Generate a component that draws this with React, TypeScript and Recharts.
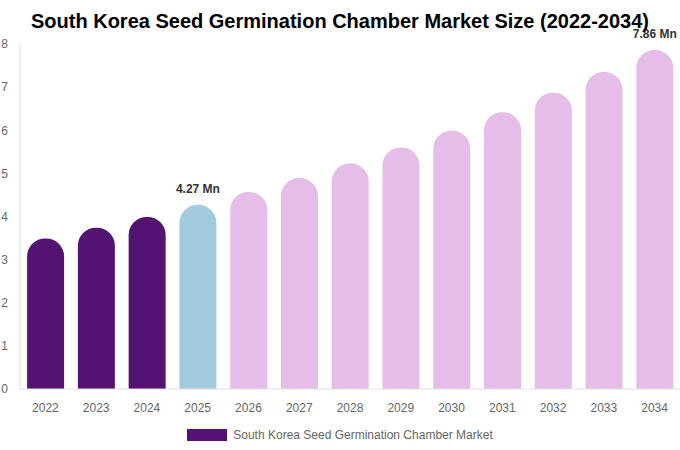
import React from "react";
import { BarChart, Bar, XAxis, YAxis, Cell, LabelList, Legend } from "recharts";

const years = ["2022", "2023", "2024", "2025", "2026", "2027", "2028", "2029", "2030", "2031", "2032", "2033", "2034"];
const values = [3.49, 3.74, 3.99, 4.27, 4.57, 4.89, 5.23, 5.6, 5.99, 6.42, 6.87, 7.35, 7.86];
const labels = ["", "", "", "4.27 Mn", "", "", "", "", "", "", "", "", "7.86 Mn"];
const yTicks = [0, 1, 2, 3, 4, 5, 6, 7, 8];
const seriesName = "South Korea Seed Germination Chamber Market";

const DARK = "#541272";
const BLUE = "#a3cadd";
const PINK = "#e6bce8";

const colorFor = (i: number) => (i < 3 ? DARK : i === 3 ? BLUE : PINK);

const data = years.map((y, i) => ({ year: y, value: values[i], label: labels[i] }));

const font = "'Liberation Sans', Arial, Helvetica, sans-serif";

const LegendContent = () => (
  <div style={{ display: "flex", justifyContent: "center", alignItems: "center", height: 31, fontFamily: font }}>
    <span style={{ display: "inline-block", width: 40, height: 12, background: DARK, marginRight: 6 }} />
    <span style={{ fontSize: 12, color: "#666" }}>{seriesName}</span>
  </div>
);

const TopLabel = (props: any) => {
  const { x, y, width, value } = props;
  if (!value) return null;
  return (
    <text
      x={Number(x) + Number(width) / 2}
      y={Number(y) - 12}
      textAnchor="middle"
      fill="#333"
      fontSize={12}
      fontWeight="bold"
      fontFamily={font}
    >
      {value}
    </text>
  );
};

export default function App() {
  return (
    <div style={{ position: "absolute", left: 0, top: 0, width: 680, height: 450, background: "#fff", fontFamily: font }}>
      <div
        style={{
          position: "absolute",
          top: 10.5,
          left: 0,
          width: 680,
          textAlign: "center",
          fontSize: 20,
          lineHeight: "20px",
          fontWeight: "bold",
          color: "#000",
          fontFamily: font,
          zIndex: 2,
        }}
      >
        South Korea Seed Germination Chamber Market Size (2022-2034)
      </div>
      <BarChart
        width={680}
        height={450}
        data={data}
        margin={{ top: 44, right: 0, left: 0, bottom: 0 }}
        barCategoryGap="14%"
      >
        <XAxis
          dataKey="year"
          tickLine={false}
          tickMargin={8}
          axisLine={{ stroke: "#e0e0e0" }}
          tick={{ fill: "#666", fontSize: 12, fontFamily: font }}
          interval={0}
        />
        <YAxis
          width={20}
          domain={[0, 8]}
          ticks={yTicks}
          tickLine={false}
          tickMargin={6}
          axisLine={{ stroke: "#e0e0e0" }}
          tick={{ fill: "#666", fontSize: 12, fontFamily: font }}
        />
        <Legend verticalAlign="bottom" content={<LegendContent />} wrapperStyle={{ height: 31 }} />
        <Bar dataKey="value" name={seriesName} radius={[18, 18, 0, 0]} isAnimationActive={false}>
          {data.map((d, i) => (
            <Cell key={d.year} fill={colorFor(i)} />
          ))}
          <LabelList dataKey="label" content={<TopLabel />} />
        </Bar>
      </BarChart>
    </div>
  );
}
